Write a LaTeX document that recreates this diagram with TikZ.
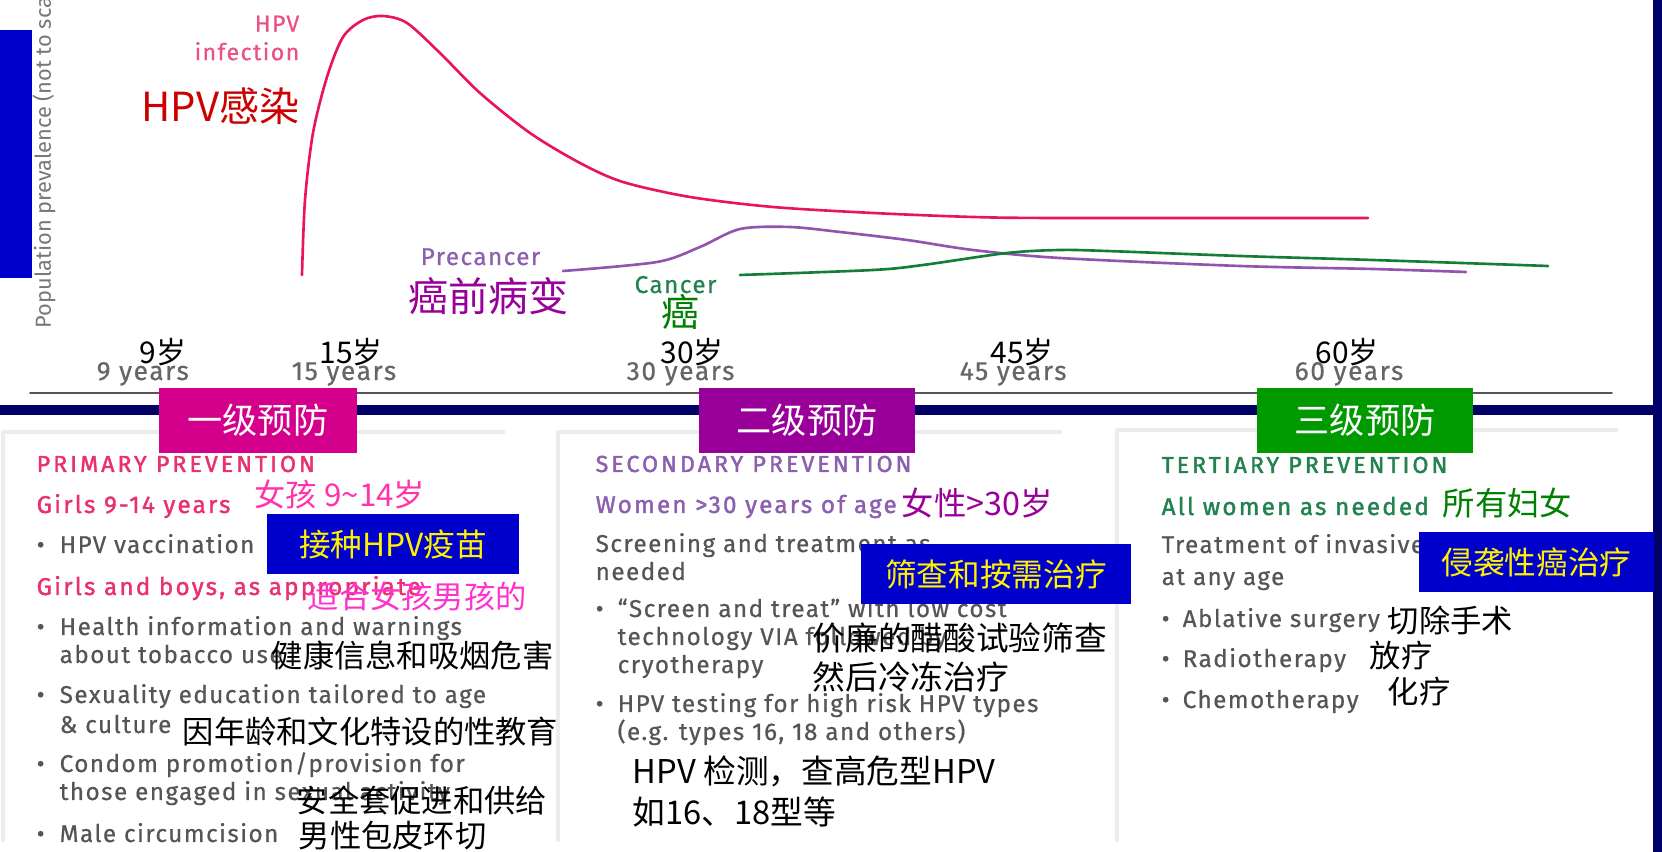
\documentclass[tikz,border=0pt]{standalone}
\usepackage{fontspec}
\setmainfont{Fira Sans}
\newfontfamily\cjk{Noto Sans CJK SC}
\newfontfamily\en[LetterSpace=6,FakeBold=0.6]{Fira Sans}
\newfontfamily\enm[LetterSpace=9,FakeBold=1.6]{Fira Sans}
\newfontfamily\enh[LetterSpace=13,FakeBold=1.8]{Fira Sans}
\newcommand\fsz[1]{\fontsize{#1}{#1}\selectfont}
\definecolor{navy}{RGB}{0,0,102}
\definecolor{boxblue}{RGB}{0,0,204}
\definecolor{hpvred}{RGB}{232,20,95}
\definecolor{prepurple}{RGB}{145,85,175}
\definecolor{cangreen}{RGB}{20,125,55}
\definecolor{pinktxt}{RGB}{232,50,110}
\definecolor{purtxt}{RGB}{140,95,175}
\definecolor{grntxt}{RGB}{35,130,80}
\definecolor{bodygray}{RGB}{85,85,85}
\definecolor{panelgray}{RGB}{236,236,236}
\definecolor{stmag}{RGB}{212,0,140}
\definecolor{stpur}{RGB}{153,0,153}
\definecolor{stgrn}{RGB}{0,153,0}
\definecolor{zhpink}{RGB}{255,51,170}
\definecolor{zhpink2}{RGB}{255,51,204}
\begin{document}
\begin{tikzpicture}[x=0.01cm,y=-0.01cm,line join=round,line cap=round,
  body/.style={inner sep=0pt,anchor=base west,text=bodygray,font=\en\fsz{6.9}},
  head/.style={body,font=\enh\fsz{6.6}},
  sub/.style={body,font=\enm\fsz{6.9}},
  lbl/.style={body,font=\en\fsz{6.9}},
  zh/.style={inner sep=0pt,anchor=west,font=\cjk\fsz{8.9}},
  yrs/.style={inner sep=0pt,anchor=base west,text=bodygray!90,font=\en\fsz{7.5}},
  age/.style={inner sep=0pt,font=\cjk\fsz{8.5}},
  stage/.style={inner sep=0pt,minimum width=2.16cm,minimum height=0.65cm,text=white,font=\cjk\fsz{10}},
  bluebox/.style={fill=boxblue,text=yellow,inner sep=0pt,minimum height=0.6cm,font=\cjk\fsz{9}},
  panel/.style={draw=panelgray,line width=1.1pt,line cap=butt},
  curve/.style={smooth,line width=0.75pt}]
\useasboundingbox (0,0) rectangle (1662,852);
\fill[boxblue] (0,30) rectangle (32,278);
\node[inner sep=0pt,anchor=base west,rotate=90,text=bodygray!80,font=\fsz{6.2}] (ylab) at (51,329) {Population prevalence (not to sca};
\draw[bodygray,line width=0.45pt] (30,393)--(1612,393);
\foreach \n/\x/\ax in {9/96/163,15/291/351,30/626/692,45/959/1022,60/1294/1347}{
  \node[yrs] (y\n) at (\x,380) {\n{} years};
  \node[age] (a\n) at (\ax,352) {\n{}岁};
}
\draw[curve,hpvred] plot coordinates {(302,275) (305,200) (313,133) (327,77) (343,37) (363,20) (383,16) (407,23) (440,53) (480,93) (530,133) (580,163) (623,182) (690,197) (773,207) (873,213) (973,217) (1060,218) (1368,218)};
\draw[curve,prepurple] plot coordinates {(563,271) (657,262) (700,247) (740,229) (790,227) (840,232) (907,240) (973,250) (1060,258) (1240,266) (1373,269) (1466,272)};
\draw[curve,cangreen] plot coordinates {(740,275) (873,270) (923,265) (1007,253) (1060,250) (1107,251) (1240,256) (1373,260) (1548,266)};
\node[inner sep=0pt,anchor=north east,align=right,text=pinktxt!85,font=\en\fsz{6.6}] (hpvlbl) at (300,15) {HPV\\[1.5pt]infection};
\node[zh,font=\cjk\fsz{11.4},text={rgb,255:red,204;green,0;blue,0}] (hpvzh) at (141,106) {HPV感染};
\node[lbl,text=purtxt] (prelbl) at (420,265) {Precancer};
\node[zh,font=\cjk\fsz{11.4},text=stpur] (prezh) at (408,296) {癌前病变};
\node[lbl,text=grntxt] (canlbl) at (634,293) {Cancer};
\node[zh,font=\cjk\fsz{10.8},text={rgb,255:red,0;green,128;blue,0}] (canzh) at (661,312) {癌};
% prevention panels
\fill[navy] (0,405) rectangle (1662,415);
\fill[navy] (1653,0) rectangle (1662,852);
\draw[panel] (3,842)--(3,432)--(505,432);
\draw[panel] (558,842)--(558,432)--(1062,432);
\draw[panel] (1117,842)--(1117,430)--(1618,430);
\node[stage,fill=stmag,minimum width=1.98cm] (st1) at (258,420.5) {一级预防};
\node[stage,fill=stpur] (st2) at (807,420.5) {二级预防};
\node[stage,fill=stgrn] (st3) at (1365,420.5) {三级预防};
\node[head,text=pinktxt] (p1h) at (36,472) {PRIMARY PREVENTION};
\node[sub,text=pinktxt] (p1g) at (36,513) {Girls 9-14 years};
\node[body] (p1b1) at (36,553) {•};
\node[body] (p1t1) at (59,553) {HPV vaccination};
\node[sub,text=pinktxt] (p1gb) at (36,595) {Girls and boys, as appropriate};
\node[body] (p1b2) at (36,635) {•};
\node[body] (p1t2) at (59,635) {Health information and warnings};
\node[body] (p1t2b) at (59,663) {about tobacco use};
\node[body] (p1b3) at (36,703) {•};
\node[body] (p1t3) at (59,703) {Sexuality education tailored to age};
\node[body] (p1t3b) at (59,733) {\& culture};
\node[body] (p1b4) at (36,772) {•};
\node[body] (p1t4) at (59,772) {Condom promotion/provision for};
\node[body] (p1t4b) at (59,800) {those engaged in sexual activity};
\node[body] (p1b5) at (36,842) {•};
\node[body] (p1t5) at (59,842) {Male circumcision};
\node[head,text=purtxt] (p2h) at (595,472) {SECONDARY PREVENTION};
\node[sub,text=purtxt] (p2w) at (595,513) {Women >30 years of age};
\node[body] (p2s) at (595,552) {Screening and treatment as};
\node[body] (p2sb) at (595,580) {needed};
\node[body] (p2b1) at (595,617) {•};
\node[body] (p2t1) at (617,617) {“Screen and treat” with low cost};
\node[body] (p2t1b) at (617,645) {technology VIA followed by};
\node[body] (p2t1c) at (617,673) {cryotherapy};
\node[body] (p2b2) at (595,712) {•};
\node[body] (p2t2) at (617,712) {HPV testing for high risk HPV types};
\node[body] (p2t2b) at (617,740) {(e.g. types 16, 18 and others)};
\node[head,text=grntxt] (p3h) at (1161,473) {TERTIARY PREVENTION};
\node[sub,text=grntxt] (p3w) at (1161,515) {All women as needed};
\node[body] (p3s) at (1161,553) {Treatment of invasive cancer};
\node[body] (p3sb) at (1161,585) {at any age};
\node[body] (p3b1) at (1161,627) {•};
\node[body] (p3t1) at (1182,627) {Ablative surgery};
\node[body] (p3b2) at (1161,667) {•};
\node[body] (p3t2) at (1182,667) {Radiotherapy};
\node[body] (p3b3) at (1161,708) {•};
\node[body] (p3t3) at (1182,708) {Chemotherapy};
\node[bluebox,minimum width=2.52cm] (bx1) at (393,544) {接种HPV疫苗};
\node[bluebox,minimum width=2.70cm] (bx2) at (996,574) {筛查和按需治疗};
\node[bluebox,minimum width=2.35cm] (bx3) at (1536.5,562) {侵袭性癌治疗};
\node[zh,text=zhpink] (z1) at (254,494) {女孩 9\textasciitilde14岁};
\node[zh,text=zhpink2] (z2) at (307,596) {适合女孩男孩的};
\node[zh] (z3) at (271,656) {健康信息和吸烟危害};
\node[zh] (z4) at (182,732) {因年龄和文化特设的性教育};
\node[zh] (z5) at (296,800) {安全套促进和供给};
\node[zh] (z6) at (298,836) {男性包皮环切};
\node[zh,font=\cjk\fsz{9.2},text=stpur] (z7) at (901,503) {女性>30岁};
\node[zh,font=\cjk\fsz{9.3}] (z8) at (812,638) {价廉的醋酸试验筛查};
\node[zh,font=\cjk\fsz{9.3}] (z9) at (812,677) {然后冷冻治疗};
\node[zh,font=\cjk\fsz{9.3}] (z10) at (632,771) {HPV 检测，查高危型HPV};
\node[zh,font=\cjk\fsz{9.3}] (z11) at (632,812) {如16、18型等};
\node[zh,font=\cjk\fsz{9.2},text={rgb,255:red,0;green,128;blue,0}] (z12) at (1442,503) {所有妇女};
\node[zh] (z13) at (1387,621) {切除手术};
\node[zh] (z14) at (1369,656) {放疗};
\node[zh] (z15) at (1387,692) {化疗};
\end{tikzpicture}
\end{document}
